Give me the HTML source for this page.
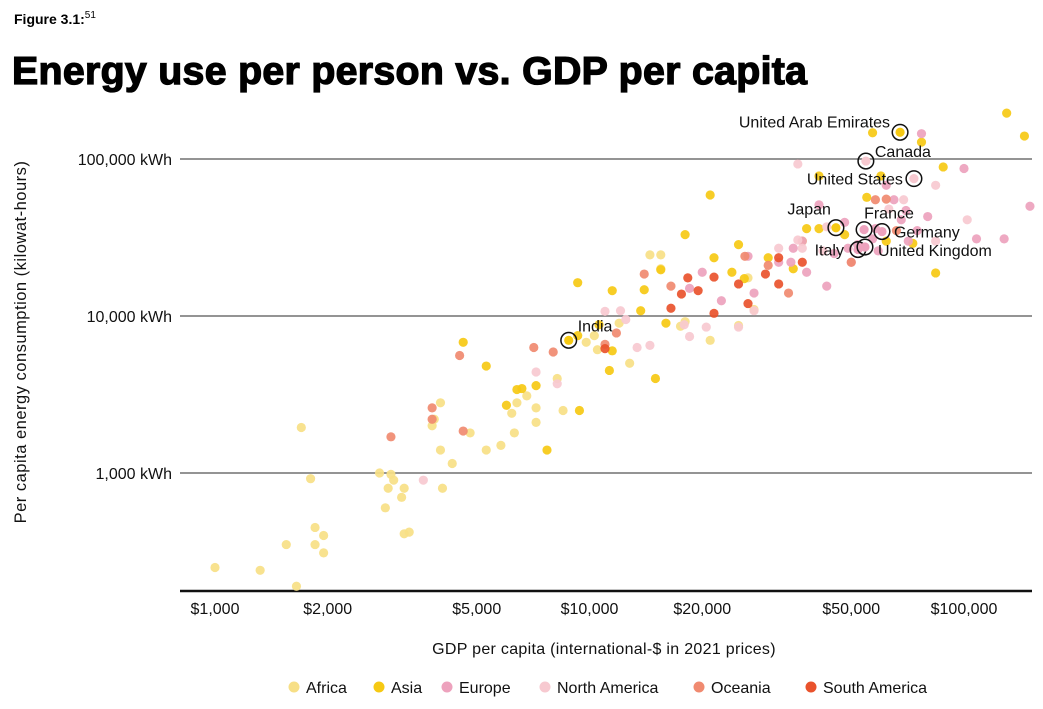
<!DOCTYPE html>
<html><head><meta charset="utf-8"><style>
body{margin:0;background:#fff;width:1043px;height:704px;overflow:hidden;font-family:"Liberation Sans",sans-serif;}
</style></head><body>
<svg id="chart" width="1043" height="704" viewBox="0 0 1043 704" xmlns="http://www.w3.org/2000/svg" font-family="Liberation Sans, sans-serif">
<text x="14" y="24" font-size="14" font-weight="bold" fill="#000">Figure 3.1:<tspan font-size="10" font-weight="normal" dy="-6">51</tspan></text>
<text x="12" y="84" font-size="39.3" font-weight="900" fill="#000" stroke="#000" stroke-width="1.3" letter-spacing="0.3">Energy use per person vs. GDP per capita</text>
<g id="grid"></g><g id="marks"></g><g id="hl"></g><g id="legend"></g>
<text x="604" y="654" font-size="16" text-anchor="middle" fill="#111" letter-spacing="0.3">GDP per capita (international-$ in 2021 prices)</text>
<text transform="translate(26,342) rotate(-90)" font-size="16.5" text-anchor="middle" fill="#111" letter-spacing="0.5">Per capita energy consumption (kilowat-hours)</text>
</svg>
<script>
const xTicks=[1000,2000,5000,10000,20000,50000,100000];
const xTickLabels=["$1,000","$2,000","$5,000","$10,000","$20,000","$50,000","$100,000"];
const yTicks=[1000,10000,100000];
const yTickLabels=["1,000 kWh","10,000 kWh","100,000 kWh"];
const regions=["Africa","Asia","Europe","North America","Oceania","South America"];
const regionColors=["#f7df86","#f6c913","#eda2bd","#f7c9d0","#f08a70","#e9522c"];
const africa=[[1000,250],[1320,240],[1550,350],[1650,190],[1700,1950],[1800,920],[1850,450],[1850,350],[1950,400],[1950,310],[2750,1000],[2850,600],[2900,800],[2950,980],[3000,900],[3150,700],[3200,410],[3300,420],[3200,800],[3850,2200],[3800,2000],[4000,2800],[4000,1400],[4050,800],[4300,1150],[4800,1800],[5300,1400],[5800,1500],[6200,2400],[6300,1800],[6400,2800],[6800,3100],[7200,2600],[7200,2100],[8200,4000],[8500,2500],[10500,6100],[9800,6800],[10300,7500],[12800,5000],[14500,24500],[15500,24500],[18000,9200],[21000,7000],[25000,8700],[27500,11000],[12000,9000],[17500,8600],[26500,17500],[15500,20000]];
const asia=[[4600,6800],[5300,4800],[6000,2700],[6400,3400],[6600,3450],[7200,3600],[7700,1400],[9300,7500],[9400,2500],[11300,4500],[11500,6000],[10600,8800],[13700,10800],[15000,4000],[16000,9000],[9300,16300],[11500,14500],[14000,14700],[15500,19700],[18000,33000],[21000,59000],[21500,23500],[24000,19000],[25000,28500],[25900,17300],[30000,23500],[35000,20000],[37000,30000],[38000,36000],[41000,36000],[41000,78000],[55000,57000],[57000,147000],[60000,78000],[77000,128000],[88000,89000],[84000,18800],[73000,29000],[130000,196000],[145000,140000],[48000,33000],[62000,30000]];
const europe=[[18500,15000],[20000,19000],[22500,12500],[26500,24000],[27500,14000],[32000,22000],[34500,22000],[35000,27000],[37000,30000],[38000,19000],[41000,51000],[43000,15500],[45000,25000],[48000,39500],[49000,27000],[52000,28500],[50000,22000],[57000,31000],[62000,68000],[65000,55000],[68000,41000],[70000,47000],[71000,30000],[77000,145000],[80000,43000],[100000,87000],[108000,31000],[128000,31000],[150000,50000],[58000,36000],[59000,26000],[75000,35000]];
const northAmerica=[[7200,4400],[8200,3700],[3600,900],[11000,10700],[12100,10800],[13400,6300],[17900,8800],[18500,7400],[20500,8500],[25000,8500],[27500,10800],[36000,30500],[37000,27000],[43000,37000],[42000,26000],[32000,27000],[36000,93000],[63000,48000],[69000,55000],[84000,68000],[84000,30000],[102000,41000],[14500,6500],[12500,9500]];
const oceania=[[3800,2600],[3800,2200],[2950,1700],[4500,5600],[4600,1850],[7100,6300],[8000,5900],[11800,7800],[14000,18500],[16500,15500],[26000,24000],[30000,21000],[34000,14000],[58000,55000],[62000,55500],[50000,22000],[66000,35000],[11000,6600]];
const southAmerica=[[11000,6200],[16500,11200],[17600,13800],[18300,17500],[21500,10400],[21500,17700],[25000,16000],[26500,12000],[29500,18500],[32000,23500],[32000,16000],[37000,22000],[19500,14500]];
const series=[africa,asia,europe,northAmerica,oceania,southAmerica];
const hlNames=["United Arab Emirates","Canada","United States","Japan","France","Germany","Italy","United Kingdom","India"];
const hlValues=[[67500,148000],[54700,97000],[73500,75000],[45500,36500],[54100,35500],[60400,34500],[52100,26500],[54400,27500],[8800,7000]];
const hlRegion=[1,3,3,1,2,2,2,2,1];
const hlLabelPos=[["end",-10,-5],["start",9,-4],["end",-11,6],["end",-5,-13],["start",0,-11],["start",12,6],["end",-14,6],["start",13,9],["start",9,-9]];
const X0=215,X1=964,Y0=473,Y1=159;
const xs=v=>X0+(Math.log10(v)-3)/2*(X1-X0);
const ys=v=>Y0-(Math.log10(v)-3)/2*(Y0-Y1);
const NS="http://www.w3.org/2000/svg";
function mk(tag,attrs,parent,txt){const e=document.createElementNS(NS,tag);for(const k in attrs)e.setAttribute(k,attrs[k]);if(txt!=null)e.textContent=txt;parent.appendChild(e);return e;}
const grid=document.getElementById('grid');
yTicks.forEach((t,i)=>{
 const l=mk('line',{x1:180,x2:1032,y1:ys(t),y2:ys(t),stroke:'#555','stroke-width':1.3},grid);
 
 
 const tx=mk('text',{x:172,y:ys(t)+6,'font-size':16,'text-anchor':'end',fill:'#111'},grid,yTickLabels[i]);
 
 
});
const ax=mk('line',{x1:180,x2:1032,y1:591,y2:591,stroke:'#111','stroke-width':2.5},grid);


xTicks.forEach((t,i)=>{
 const tx=mk('text',{x:xs(t),y:614,'font-size':16,'text-anchor':'middle',fill:'#111'},grid,xTickLabels[i]);
 
 
});
const marks=document.getElementById('marks');
series.forEach((s,ri)=>{s.forEach(p=>{
 const c=mk('circle',{cx:xs(p[0]),cy:ys(p[1]),r:4.6,fill:regionColors[ri],'fill-opacity':0.92},marks);
 
 
});});
const hl=document.getElementById('hl');
hlNames.forEach((n,i)=>{
 const x=xs(hlValues[i][0]),y=ys(hlValues[i][1]);
 const d=mk('circle',{cx:x,cy:y,r:4.6,fill:regionColors[hlRegion[i]]},hl);
 
 
 const c=mk('circle',{cx:x,cy:y,r:7.8,fill:'none',stroke:'#111','stroke-width':1.5},hl);
 
 
 const lp=hlLabelPos[i];
 const t=mk('text',{x:x+lp[1],y:y+lp[2],'font-size':16,'text-anchor':lp[0],fill:'#111'},hl,n);
 
 
});
const lg=document.getElementById('legend');
const lx=[294,379,447,545,699,811];
regions.forEach((r,i)=>{
 const c=mk('circle',{cx:lx[i],cy:687,r:5.5,fill:regionColors[i]},lg);
 
 
 const t=mk('text',{x:lx[i]+12,y:693,'font-size':16,fill:'#111'},lg,r);
 
 
});
</script>
</body></html>
